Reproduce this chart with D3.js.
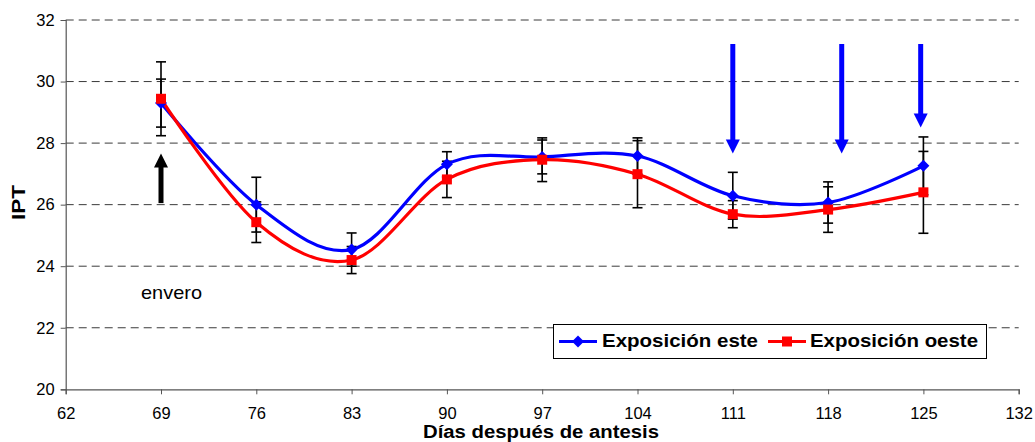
<!DOCTYPE html>
<html>
<head>
<meta charset="utf-8">
<script src="https://cdn.jsdelivr.net/npm/d3@7"></script>
<style>
  html, body { margin: 0; padding: 0; background: #fff; }
  svg { display: block; font-family: Arial, "Liberation Sans", sans-serif; }
</style>
</head>
<body>
<svg id="chart" width="1035" height="442"></svg>
<script>
// Days after anthesis (sampling dates)
const days = [69, 76, 83, 90, 97, 104, 111, 118, 125];

// IPT per exposure and its error (±)
const este      = [29.30, 26.00, 24.54, 27.31, 27.55, 27.58, 26.29, 26.07, 27.26];
const esteErr   = [0.78, 0.89, 0.54, 0.41, 0.55, 0.59, 0.76, 0.67, 0.94];
const oeste     = [29.44, 25.43, 24.20, 26.82, 27.46, 26.99, 25.69, 25.84, 26.40];
const oesteErr  = [1.20, 0.66, 0.44, 0.59, 0.71, 1.09, 0.44, 0.74, 1.33];

const xTicks = [62, 69, 76, 83, 90, 97, 104, 111, 118, 125, 132];
const yTicks = [20, 22, 24, 26, 28, 30, 32];

const seriesNames = ["Exposición este", "Exposición oeste"];
const seriesColors = ["#0000ff", "#ff0000"];

// Annotation arrows: [day, from IPT, to IPT]
const enveroArrow = [69, 26.05, 27.66];
const blueArrows = [[111, 31.22, 27.66], [119, 31.22, 27.66], [124.8, 31.22, 28.51]];

const svg = d3.select("#chart");

const x = d3.scaleLinear().domain([62, 132]).range([65.7, 1018.7]);
const y = d3.scaleLinear().domain([20, 32]).range([389.3, 20]);

// horizontal dashed gridlines
svg.append("g")
  .selectAll("line")
  .data(yTicks.filter(v => v > 20))
  .join("line")
  .attr("x1", x(62)).attr("x2", x(132))
  .attr("y1", d => y(d)).attr("y2", d => y(d))
  .attr("stroke", "#3a3a3a")
  .attr("stroke-width", 1)
  .attr("stroke-dasharray", "8,5");

// y axis
const yAxis = svg.append("g")
  .attr("transform", `translate(${x(62)},0)`)
  .call(d3.axisLeft(y).tickValues(yTicks).tickSize(5).tickPadding(6).tickFormat(d3.format("d")));
yAxis.select(".domain").attr("stroke", "#555").attr("stroke-width", 1.2);
yAxis.selectAll(".tick line").attr("stroke", "#555");
yAxis.selectAll("text").attr("font-size", 16.5).attr("fill", "#000")
  .attr("font-family", "Arial, 'Liberation Sans', sans-serif");

// x axis
const xAxis = svg.append("g")
  .attr("transform", `translate(0,${y(20)})`)
  .call(d3.axisBottom(x).tickValues(xTicks).tickSize(5).tickPadding(13).tickFormat(d3.format("d")));
xAxis.select(".domain").attr("stroke", "#555").attr("stroke-width", 1.2);
xAxis.selectAll(".tick line").attr("stroke", "#555");
xAxis.selectAll("text").attr("font-size", 16.5).attr("fill", "#000")
  .attr("font-family", "Arial, 'Liberation Sans', sans-serif");

// axis titles
svg.append("text")
  .attr("x", 541).attr("y", 437.5)
  .attr("text-anchor", "middle")
  .attr("font-size", 18).attr("font-weight", "bold")
  .attr("textLength", 236).attr("lengthAdjust", "spacingAndGlyphs")
  .text("Días después de antesis");

svg.append("text")
  .attr("transform", `translate(25,${202.5}) rotate(-90)`)
  .attr("text-anchor", "middle")
  .attr("font-size", 18).attr("font-weight", "bold")
  .attr("textLength", 35).attr("lengthAdjust", "spacingAndGlyphs")
  .text("IPT");

// smoothed series lines
const line = d3.line()
  .x(d => x(d[0]))
  .y(d => y(d[1]))
  .curve(d3.curveCardinal.tension(0));

const series = [
  { name: seriesNames[0], color: seriesColors[0], vals: este, err: esteErr, shape: "diamond", legendLen: 156 },
  { name: seriesNames[1], color: seriesColors[1], vals: oeste, err: oesteErr, shape: "square", legendLen: 168 }
];

// error bars (behind markers)
const errG = svg.append("g").attr("stroke", "#000").attr("stroke-width", 1.6);
series.forEach(s => {
  days.forEach((d, i) => {
    const cx = x(d);
    const hi = y(s.vals[i] + s.err[i]);
    const lo = y(s.vals[i] - s.err[i]);
    errG.append("line").attr("x1", cx).attr("x2", cx).attr("y1", hi).attr("y2", lo);
    errG.append("line").attr("x1", cx - 5).attr("x2", cx + 5).attr("y1", hi).attr("y2", hi);
    errG.append("line").attr("x1", cx - 5).attr("x2", cx + 5).attr("y1", lo).attr("y2", lo);
  });
});

const diamond = (cx, cy, r) => `M${cx},${cy - r}L${cx + r},${cy}L${cx},${cy + r}L${cx - r},${cy}Z`;

series.forEach(s => {
  const pts = days.map((d, i) => [d, s.vals[i]]);
  svg.append("path")
    .attr("d", line(pts))
    .attr("fill", "none")
    .attr("stroke", s.color)
    .attr("stroke-width", 3.2)
    .attr("stroke-linejoin", "round");
});

series.forEach(s => {
  const g = svg.append("g").attr("fill", s.color);
  days.forEach((d, i) => {
    const cx = x(d), cy = y(s.vals[i]);
    if (s.shape === "diamond") {
      g.append("path").attr("d", diamond(cx, cy, 6));
    } else {
      g.append("rect").attr("x", cx - 5).attr("y", cy - 5).attr("width", 10).attr("height", 10);
    }
  });
});

// arrows
function arrow(day, from, to, color) {
  const cx = x(day), y0 = y(from), y1 = y(to);
  const headH = 14, headW = 7;
  svg.append("line")
    .attr("x1", cx).attr("x2", cx)
    .attr("y1", y0).attr("y2", y1 + (y0 > y1 ? headH : -headH) * 0.9)
    .attr("stroke", color).attr("stroke-width", 5);
  const dir = y0 > y1 ? 1 : -1;
  svg.append("path")
    .attr("d", `M${cx},${y1}L${cx + headW},${y1 + dir * headH}L${cx - headW},${y1 + dir * headH}Z`)
    .attr("fill", color);
}
arrow(enveroArrow[0], enveroArrow[1], enveroArrow[2], "#000");
blueArrows.forEach(a => arrow(a[0], a[1], a[2], "#0000ff"));

// envero label
svg.append("text")
  .attr("x", 141).attr("y", 299)
  .attr("font-size", 19)
  .attr("textLength", 61).attr("lengthAdjust", "spacingAndGlyphs")
  .text("envero");

// legend
const lg = svg.append("g");
lg.append("rect")
  .attr("x", 553.5).attr("y", 324.5).attr("width", 433).attr("height", 34)
  .attr("fill", "#fff").attr("stroke", "#000").attr("stroke-width", 1);
const legendItems = [
  { x0: 559, x1: 597, tx: 602, s: series[0] },
  { x0: 768, x1: 806, tx: 810, s: series[1] }
];
legendItems.forEach(it => {
  const ly = 341.5;
  lg.append("line").attr("x1", it.x0).attr("x2", it.x1).attr("y1", ly).attr("y2", ly)
    .attr("stroke", it.s.color).attr("stroke-width", 3.2);
  const mx = (it.x0 + it.x1) / 2;
  if (it.s.shape === "diamond") {
    lg.append("path").attr("d", diamond(mx, ly, 6)).attr("fill", it.s.color);
  } else {
    lg.append("rect").attr("x", mx - 5).attr("y", ly - 5).attr("width", 10).attr("height", 10).attr("fill", it.s.color);
  }
  lg.append("text").attr("x", it.tx).attr("y", 346.5)
    .attr("font-size", 18.5).attr("font-weight", "bold")
    .attr("textLength", it.s.legendLen).attr("lengthAdjust", "spacingAndGlyphs")
    .text(it.s.name);
});
</script>
</body>
</html>
